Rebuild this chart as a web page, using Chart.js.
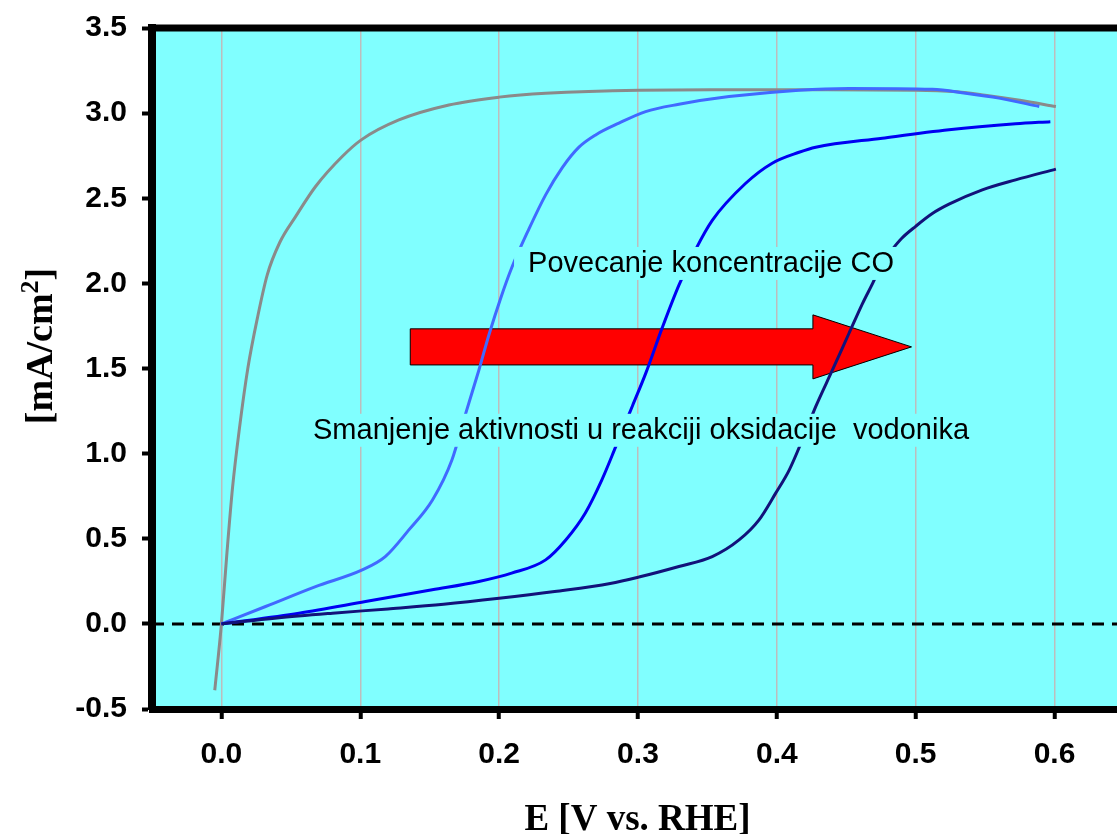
<!DOCTYPE html>
<html><head><meta charset="utf-8">
<script src="https://cdn.jsdelivr.net/npm/chart.js@4.4.1/dist/chart.umd.min.js"></script>
<style>html,body{margin:0;padding:0;background:#fff;overflow:hidden}#wrap{width:1117px;height:834px;position:relative}</style>
</head><body><div id="wrap"><canvas id="c" width="1117" height="834"></canvas></div>
<script>
// ---- data ----
const xTickValues = [0.0, 0.1, 0.2, 0.3, 0.4, 0.5, 0.6];
const yTickValues = [-0.5, 0.0, 0.5, 1.0, 1.5, 2.0, 2.5, 3.0, 3.5];

const grayX = [-0.0048, 0, 0.004, 0.008, 0.013, 0.019, 0.026, 0.033, 0.042, 0.0534, 0.0678, 0.087, 0.1007, 0.1278, 0.1638, 0.2, 0.2335, 0.3007, 0.353, 0.416, 0.5, 0.53, 0.55, 0.575, 0.601];
const grayY = [-0.39, 0, 0.42, 0.8, 1.15, 1.5, 1.8, 2.05, 2.24, 2.392, 2.569, 2.745, 2.843, 2.96, 3.048, 3.094, 3.117, 3.135, 3.137, 3.137, 3.135, 3.125, 3.105, 3.075, 3.039];

const lightBlueX = [0, 0.0318, 0.0678, 0.1014, 0.118, 0.135, 0.152, 0.166, 0.176, 0.1854, 0.193, 0.201, 0.209, 0.2215, 0.2335, 0.2455, 0.2575, 0.2695, 0.2863, 0.3055, 0.3295, 0.3656, 0.416, 0.452, 0.512, 0.536, 0.56, 0.589];
const lightBlueY = [0, 0.102, 0.219, 0.317, 0.395, 0.552, 0.728, 0.963, 1.238, 1.49, 1.707, 1.91, 2.09, 2.32, 2.52, 2.68, 2.8, 2.872, 2.941, 3.009, 3.052, 3.097, 3.135, 3.145, 3.14, 3.117, 3.088, 3.039];

const blueX = [0, 0.0558, 0.1038, 0.1518, 0.1854, 0.209, 0.2335, 0.248, 0.262, 0.274, 0.284, 0.296, 0.3055, 0.3175, 0.3295, 0.3416, 0.3535, 0.3776, 0.3967, 0.416, 0.428, 0.476, 0.524, 0.572, 0.597];
const blueY = [0, 0.063, 0.131, 0.2, 0.249, 0.298, 0.376, 0.493, 0.65, 0.846, 1.041, 1.28, 1.47, 1.74, 1.99, 2.2, 2.37, 2.588, 2.706, 2.77, 2.80, 2.853, 2.902, 2.937, 2.95];

const navyX = [0, 0.04, 0.08, 0.12, 0.16, 0.2, 0.24, 0.28, 0.3007, 0.3295, 0.3535, 0.3728, 0.3872, 0.3992, 0.409, 0.4184, 0.428, 0.44, 0.452, 0.4616, 0.469, 0.476, 0.4832, 0.49, 0.5, 0.512, 0.524, 0.548, 0.572, 0.601];
const navyY = [0, 0.035, 0.063, 0.088, 0.115, 0.15, 0.19, 0.237, 0.275, 0.337, 0.395, 0.493, 0.611, 0.768, 0.905, 1.081, 1.276, 1.49, 1.707, 1.88, 2.0, 2.12, 2.2, 2.265, 2.335, 2.41, 2.465, 2.549, 2.608, 2.671];

const xRange = [-0.05, 0.645];
const yRange = [-0.5, 3.5];

const labelTexts = ['Povecanje koncentracije CO', 'Smanjenje aktivnosti u reakciji oksidacije  vodonika'];
const labelX = [0.3526, 0.3022];
const labelY = [2.12, 1.14];

// arrow (data units): body start x, body end x, tip x / body low, body high, head low, head high, tip y
const arrowX = [0.136, 0.426, 0.497];
const arrowY = [1.521, 1.733, 1.439, 1.815, 1.627];

const xTitle = 'E [V vs. RHE]';
const yTitle = ['[mA/cm', '2', ']'];

function pts(xs, ys) { return xs.map((x, i) => ({ x: x, y: ys[i] })); }

const bgPlugin = {
  id: 'bg',
  beforeDraw(chart) {
    const { ctx, chartArea: a } = chart;
    ctx.save();
    ctx.fillStyle = '#80ffff';
    ctx.fillRect(a.left, a.top, a.right - a.left, a.bottom - a.top);
    ctx.restore();
  },
  beforeDatasetsDraw(chart) {
    const { ctx, scales: { x, y } } = chart;
    const X = v => x.getPixelForValue(v), Y = v => y.getPixelForValue(v);
    ctx.save();
    ctx.beginPath();
    ctx.moveTo(X(arrowX[0]), Y(arrowY[1]));
    ctx.lineTo(X(arrowX[1]), Y(arrowY[1]));
    ctx.lineTo(X(arrowX[1]), Y(arrowY[3]));
    ctx.lineTo(X(arrowX[2]), Y(arrowY[4]));
    ctx.lineTo(X(arrowX[1]), Y(arrowY[2]));
    ctx.lineTo(X(arrowX[1]), Y(arrowY[0]));
    ctx.lineTo(X(arrowX[0]), Y(arrowY[0]));
    ctx.closePath();
    ctx.fillStyle = '#ff0000';
    ctx.fill();
    ctx.lineWidth = 1;
    ctx.strokeStyle = '#000';
    ctx.stroke();
    ctx.restore();
  },
  afterDatasetsDraw(chart) {
    const { ctx, scales: { x, y } } = chart;
    ctx.save();
    ctx.font = '29px "Liberation Sans", Arial, sans-serif';
    ctx.textAlign = 'center';
    ctx.textBaseline = 'middle';
    labelTexts.forEach((t, i) => {
      const px = x.getPixelForValue(labelX[i]);
      const py = y.getPixelForValue(labelY[i]);
      const w = ctx.measureText(t).width;
      ctx.fillStyle = '#80ffff';
      ctx.fillRect(px - w / 2 - 14, py - 16, w + 28, 33);
      ctx.fillStyle = '#000';
      ctx.fillText(t, px, py + 1);
    });
    ctx.restore();
  },
  afterDraw(chart) {
    const { ctx, chartArea: a } = chart;
    ctx.save();
    ctx.strokeStyle = '#000';
    ctx.lineWidth = 7;
    ctx.beginPath();
    ctx.moveTo(a.left - 4, a.top);
    ctx.lineTo(chart.width, a.top);
    ctx.stroke();
    ctx.fillStyle = '#000';
    ctx.font = 'bold 37px "Liberation Serif", "Times New Roman", serif';
    ctx.textAlign = 'center';
    ctx.textBaseline = 'alphabetic';
    ctx.fillText(xTitle, (a.left + a.right) / 2 + 3, 830);
    ctx.translate(52, 346);
    ctx.rotate(-Math.PI / 2);
    const f1 = 'bold 38px "Liberation Serif", "Times New Roman", serif';
    const f2 = 'bold 26px "Liberation Serif", "Times New Roman", serif';
    ctx.font = f1; const w1 = ctx.measureText(yTitle[0]).width; const w3 = ctx.measureText(yTitle[2]).width;
    ctx.font = f2; const w2 = ctx.measureText(yTitle[1]).width;
    let sx = -(w1 + w2 + w3) / 2;
    ctx.textAlign = 'left';
    ctx.font = f1; ctx.fillText(yTitle[0], sx, 0); sx += w1;
    ctx.font = f2; ctx.fillText(yTitle[1], sx, -14); sx += w2;
    ctx.font = f1; ctx.fillText(yTitle[2], sx, 0);
    ctx.restore();
  }
};

const lineDefaults = { showLine: true, pointRadius: 0, borderWidth: 3, cubicInterpolationMode: 'monotone', fill: false };

new Chart(document.getElementById('c'), {
  type: 'scatter',
  data: {
    datasets: [
      Object.assign({ label: 'navy', data: pts(navyX, navyY), borderColor: '#12127a', order: 1 }, lineDefaults),
      Object.assign({ label: 'blue', data: pts(blueX, blueY), borderColor: '#0000f2', order: 2 }, lineDefaults),
      Object.assign({ label: 'lightblue', data: pts(lightBlueX, lightBlueY), borderColor: '#4169ff', order: 3 }, lineDefaults),
      Object.assign({ label: 'gray', data: pts(grayX, grayY), borderColor: '#8a8a8a', order: 4 }, lineDefaults),
      { label: 'zero', data: pts(xRange, [0, 0]), showLine: true, pointRadius: 0, borderColor: '#000', borderWidth: 3, borderDash: [12, 8], order: 10, fill: false }
    ]
  },
  options: {
    responsive: false,
    animation: false,
    events: [],
    layout: { padding: { left: 0, right: 0, top: 28, bottom: 0 } },
    plugins: { legend: { display: false }, tooltip: { enabled: false }, title: { display: false } },
    scales: {
      x: {
        type: 'linear',
        min: xRange[0], max: xRange[1],
        afterBuildTicks(scale) { scale.ticks = xTickValues.map(v => ({ value: v })); },
        afterFit(scale) { scale.height = 834 - 709; },
        ticks: {
          font: { family: '"Liberation Sans", Arial, sans-serif', size: 30, weight: 'bold' },
          color: '#000', padding: 18, maxRotation: 0, autoSkip: false,
          callback: v => Number(v).toFixed(1)
        },
        grid: { color: '#bdbdbd', lineWidth: 1.5, tickColor: '#000', tickWidth: 4, tickLength: 10, drawTicks: true },
        border: { display: true, color: '#000', width: 7 },
        title: { display: false }
      },
      y: {
        type: 'linear',
        min: yRange[0], max: yRange[1],
        afterBuildTicks(scale) { scale.ticks = yTickValues.map(v => ({ value: v })); },
        afterFit(scale) { scale.width = 152; },
        ticks: {
          font: { family: '"Liberation Sans", Arial, sans-serif', size: 30, weight: 'bold', lineHeight: 0.8 },
          color: '#000', padding: 15, autoSkip: false,
          callback: v => Number(v).toFixed(1)
        },
        grid: { drawOnChartArea: false, tickColor: '#000', tickWidth: 4, tickLength: 10, drawTicks: true },
        border: { display: true, color: '#000', width: 8 },
        title: { display: false }
      }
    }
  },
  plugins: [bgPlugin]
});
</script>
</body></html>
